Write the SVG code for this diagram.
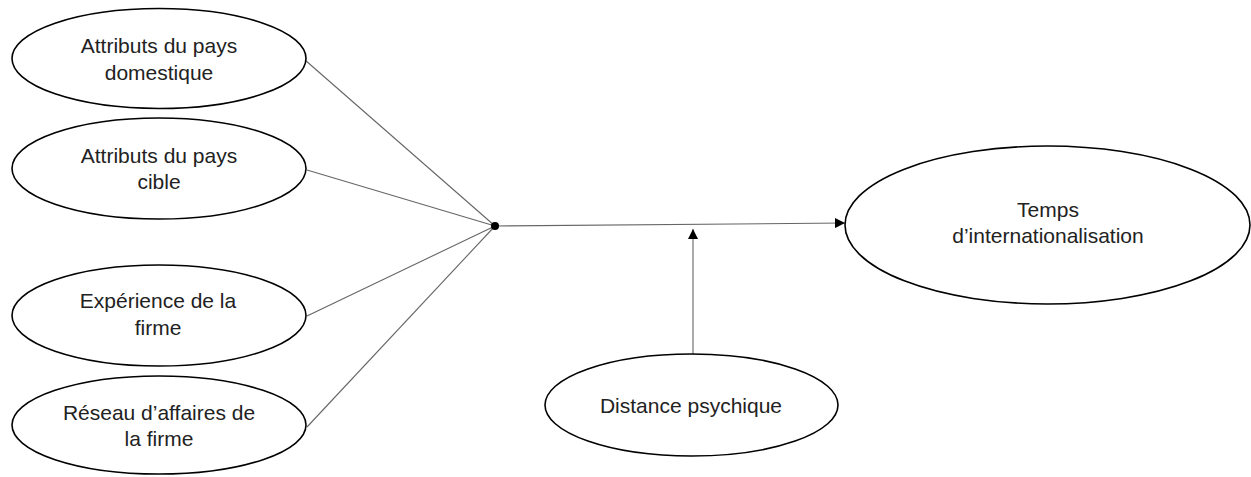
<svg xmlns="http://www.w3.org/2000/svg" width="1251" height="477" viewBox="0 0 1251 477">
<style>
.n ellipse{fill:#fff;stroke:#000;stroke-width:1.6}
.n text{font-family:"Liberation Sans",Arial,sans-serif;font-size:21px;fill:#222;text-anchor:middle}
.c line{stroke:#666;stroke-width:1.1}
</style>
<defs>
<marker id="ah" markerWidth="10" markerHeight="10" refX="10" refY="5" orient="auto" markerUnits="userSpaceOnUse">
<path d="M0,0 L10,5 L0,10 Z" fill="#000"/>
</marker>
</defs>
<rect width="1251" height="477" fill="#fff"/>
<g id="connectors" class="c">
<line x1="305" y1="60" x2="495" y2="226"/>
<line x1="307" y1="170" x2="495" y2="226"/>
<line x1="307" y1="316" x2="495" y2="226"/>
<line x1="307" y1="427" x2="495" y2="226"/>
<line x1="495" y1="226" x2="845" y2="223" marker-end="url(#ah)"/>
<line x1="693" y1="354" x2="693" y2="229" marker-end="url(#ah)"/>
<circle cx="495" cy="226" r="4" fill="#000"/>
</g>
<g id="n1" class="n"><ellipse cx="159" cy="58.5" rx="147" ry="50"/><text x="159" y="53">Attributs du pays</text><text x="159" y="80">domestique</text></g>
<g id="n2" class="n"><ellipse cx="159" cy="168.5" rx="147" ry="50.5"/><text x="159" y="163">Attributs du pays</text><text x="159" y="189">cible</text></g>
<g id="n3" class="n"><ellipse cx="159" cy="315.5" rx="147" ry="50.5"/><text x="158" y="308">Expérience de la</text><text x="158" y="335">firme</text></g>
<g id="n4" class="n"><ellipse cx="159" cy="425" rx="147" ry="49"/><text x="159" y="420">Réseau d’affaires de</text><text x="159" y="446">la firme</text></g>
<g id="n5" class="n"><ellipse cx="1047.5" cy="225" rx="202.5" ry="79"/><text x="1048" y="217">Temps</text><text x="1048" y="243">d’internationalisation</text></g>
<g id="n6" class="n"><ellipse cx="691.5" cy="405" rx="146.5" ry="51"/><text x="691" y="413">Distance psychique</text></g>
</svg>
